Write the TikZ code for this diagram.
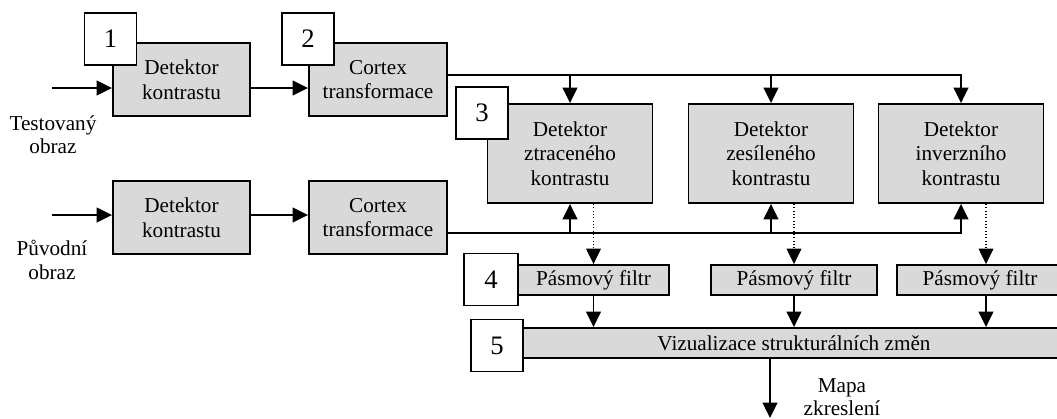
\documentclass[tikz,border=0pt]{standalone}
\usepackage{fontspec}
\setmainfont{Liberation Serif}
\usetikzlibrary{arrows.meta}
\definecolor{boxgray}{RGB}{217,217,217}
\begin{document}
\begin{tikzpicture}[x=0.75pt,y=-0.75pt,
  box/.style={draw, line width=1.4pt, fill=boxgray, inner sep=0pt, align=center, font=\fontsize{15.9}{18.5}\selectfont},
  numbox/.style={draw, line width=1.4pt, fill=white, inner sep=0pt, minimum width=39pt, minimum height=39pt, font=\fontsize{20}{24}\selectfont},
  conn/.style={line width=1.4pt},
  arr/.style={conn, -{Triangle[length=11.5pt,width=11pt]}},
  dots/.style={line width=0.9pt, dash pattern=on 0.9pt off 1.6pt, -{Triangle[length=11.5pt,width=11pt]}},
  lbl/.style={align=center, inner sep=0pt, font=\fontsize{15.9}{17.5}\selectfont}
]
\useasboundingbox (0,0) rectangle (1057,418);
\clip (0,0) rectangle (1057,418);

% stage boxes
\node[box, minimum width=102.75pt, minimum height=54.75pt] (d1) at (181.5,79.5) {Detektor\\kontrastu};
\node[box, minimum width=103.5pt, minimum height=54.75pt] (c1) at (378,79.5) {Cortex\\transformace};
\node[box, minimum width=102.75pt, minimum height=54.75pt] (d2) at (181.5,217.5) {Detektor\\kontrastu};
\node[box, minimum width=103.5pt, minimum height=54.75pt] (c2) at (378,217.5) {Cortex\\transformace};

\node[box, minimum width=123.75pt, minimum height=74.25pt] (det3) at (570,153.5) {Detektor\\ztraceného\\kontrastu};
\node[box, minimum width=123.75pt, minimum height=74.25pt] (det4) at (771,153.5) {Detektor\\zesíleného\\kontrastu};
\node[box, minimum width=123.75pt, minimum height=74.25pt] (det5) at (961,153.5) {Detektor\\inverzního\\kontrastu};

\node[box, minimum width=113.25pt, minimum height=22.5pt] (f1) at (593.5,280) {Pásmový filtr};
\node[box, minimum width=124.5pt, minimum height=22.5pt] (f2) at (794,280) {Pásmový filtr};
\node[box, minimum width=124.5pt, minimum height=22.5pt] (f3) at (980,280) {Pásmový filtr};

\node[box, minimum width=406.5pt, minimum height=22.5pt] (viz) at (794,343) {Vizualizace strukturálních změn};

% number boxes
\node[numbox] (n1) at (110.5,39) {1};
\node[numbox] (n2) at (308,39) {2};
\node[numbox] (n3) at (482,113) {3};
\node[numbox, minimum width=40pt] (n4) at (491,279.5) {4};
\node[numbox] (n5) at (497,345.5) {5};

% labels
\node[lbl] (tin) at (53,135) {Testovaný\\obraz};
\node[lbl] (pin) at (52,260) {Původní\\obraz};
\node[lbl] (map) at (842,397) {Mapa\\zkreslení};

% coordinates
\coordinate (in1) at (52,88);
\coordinate (in2) at (52,215);
\coordinate (topy) at (0,75);
\coordinate (boty) at (0,233);
\coordinate (a3) at (986,0);
\coordinate (out) at (770,418);

% connectors
\draw[arr] (in1) -- (in1 -| d1.west);
\draw[arr] (d1.east |- in1) -- (c1.west |- in1);
\draw[arr] (in2) -- (in2 -| d2.west);
\draw[arr] (d2.east |- in2) -- (c2.west |- in2);

\draw[arr] (c1.east |- topy) -| (det5.north);
\draw[arr] (det3.north |- topy) -- (det3.north);
\draw[arr] (det4.north |- topy) -- (det4.north);

\draw[arr] (c2.east |- boty) -| (det5.south);
\draw[arr] (det3.south |- boty) -- (det3.south);
\draw[arr] (det4.south |- boty) -- (det4.south);

\draw[dots] (f1.north |- det3.south) -- (f1.north);
\draw[dots] (f2.north |- det4.south) -- (f2.north);
\draw[dots] (a3 |- det5.south) -- (a3 |- f3.north);

\draw[arr] (f1.south) -- (f1.south |- viz.north);
\draw[arr] (f2.south) -- (f2.south |- viz.north);
\draw[arr] (a3 |- f3.south) -- (a3 |- viz.north);

\draw[arr] (out |- viz.south) -- (out);
\end{tikzpicture}
\end{document}
